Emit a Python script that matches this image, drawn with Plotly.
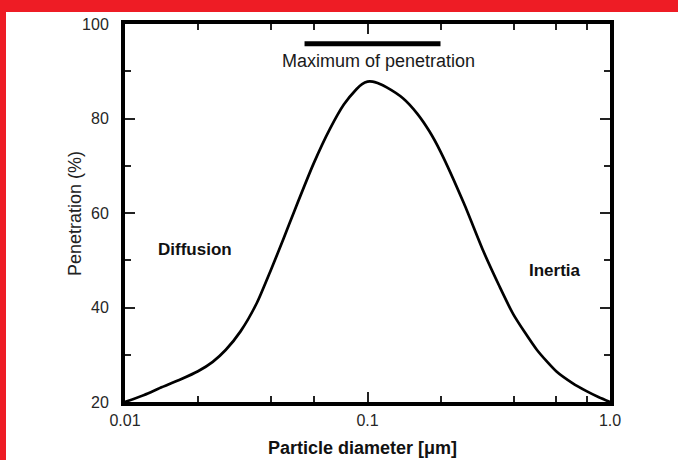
import plotly.graph_objects as go

# Data
diameter_um = [0.01, 0.012, 0.014, 0.017, 0.02, 0.023, 0.026, 0.03, 0.035, 0.04, 0.045,
               0.05, 0.06, 0.07, 0.08, 0.09, 0.095, 0.1, 0.105, 0.11, 0.12, 0.14, 0.16,
               0.18, 0.2, 0.25, 0.3, 0.35, 0.4, 0.5, 0.6, 0.7, 0.8, 0.9, 1.0]
penetration_pct = [20, 21.5, 23, 24.8, 26.5, 28.5, 31, 35, 41, 48, 54.5,
                   60.5, 70.5, 77.8, 83, 86.2, 87.3, 87.8, 87.8, 87.5, 86.6, 84.3, 81.1,
                   77.3, 73, 62, 52, 44.5, 38.5, 31, 26.5, 24, 22.3, 21, 20]
max_pen_range = [0.055, 0.2]
max_pen_level = 95.8

x_major_ticks = [0.01, 0.1, 1.0]
x_major_labels = ["0.01", "0.1", "1.0"]
x_minor_ticks = [0.02, 0.04, 0.06, 0.2, 0.4, 0.6, 0.8]
y_major_ticks = [20, 40, 60, 80, 100]
y_minor_ticks = [30, 50, 70, 90]

W, H = 678, 460
ML, MR, MT, MB = 125, 68, 24, 58
PW, PH = W - ML - MR, H - MT - MB

def px(x):
    return (x - ML) / PW

def py(y):
    return (H - MB - y) / PH

fig = go.Figure()
fig.add_trace(go.Scatter(
    x=diameter_um, y=penetration_pct, mode="lines",
    line=dict(color="black", width=2.7, shape="spline", smoothing=0.6),
    showlegend=False, hoverinfo="skip"))
fig.add_trace(go.Scatter(
    x=max_pen_range, y=[max_pen_level, max_pen_level], mode="lines",
    line=dict(color="black", width=5), showlegend=False, hoverinfo="skip"))

FONT = "Liberation Sans, Arial, sans-serif"
tick_font = dict(family=FONT, size=16, color="#262626")

fig.update_xaxes(
    type="log", range=[-2, 0], showgrid=False, zeroline=False,
    showline=True, linecolor="black", linewidth=4, mirror="ticks",
    ticks="inside", ticklen=10, tickwidth=1.5, tickcolor="#222",
    tickmode="array", tickvals=x_major_ticks, ticktext=x_major_labels,
    tickfont=tick_font, ticklabelstandoff=1,
    minor=dict(tickmode="array", tickvals=x_minor_ticks, ticks="inside",
               ticklen=6, tickwidth=1.5, tickcolor="#222", showgrid=False),
)
fig.update_yaxes(
    range=[20, 100], showgrid=False, zeroline=False,
    showline=True, linecolor="black", linewidth=4, mirror="ticks",
    ticks="inside", ticklen=10, tickwidth=1.5, tickcolor="#222",
    tickmode="array", tickvals=y_major_ticks, tickfont=tick_font,
    ticklabelstandoff=9,
    minor=dict(tickmode="array", tickvals=y_minor_ticks, ticks="inside",
               ticklen=6, tickwidth=1.5, tickcolor="#222", showgrid=False),
)

red = "#ee1c25"
fig.add_shape(type="rect", xref="paper", yref="paper",
              x0=px(0), x1=px(W), y0=py(12), y1=py(0),
              fillcolor=red, line_width=0, layer="above")
fig.add_shape(type="rect", xref="paper", yref="paper",
              x0=px(0), x1=px(6), y0=py(H), y1=py(0),
              fillcolor=red, line_width=0, layer="above")

def label(x, y, text, size, angle=0, color="#1a1a1a"):
    fig.add_annotation(x=px(x), y=py(y), xref="paper", yref="paper", text=text,
                       showarrow=False, xanchor="center", yanchor="middle",
                       textangle=angle, font=dict(family=FONT, size=size, color=color))

label(378, 61, "Maximum of penetration", 18)
label(195, 249, "<b>Diffusion</b>", 17, color="#111")
label(555, 270, "<b>Inertia</b>", 17, color="#111")
label(362, 448, "<b>Particle diameter [μm]</b>", 18, color="#111")
label(75, 214, "Penetration (%)", 18, angle=-90, color="#222")

fig.update_layout(
    width=W, height=H, margin=dict(l=ML, r=MR, t=MT, b=MB),
    paper_bgcolor="white", plot_bgcolor="white", showlegend=False,
)

fig.write_html("out.html")
